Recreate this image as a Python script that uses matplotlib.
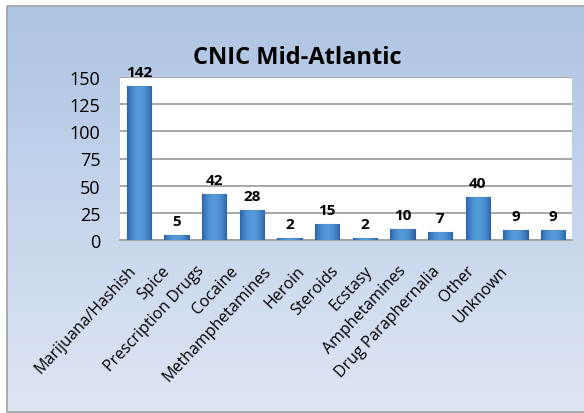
import numpy as np
import matplotlib.pyplot as plt
import matplotlib.transforms as mtransforms
from matplotlib.patches import Rectangle

# data
drugs = ["Marijuana/Hashish", "Spice", "Prescription Drugs", "Cocaine",
         "Methamphetamines", "Heroin", "Steroids", "Ecstasy",
         "Amphetamines", "Drug Paraphernalia", "Other", "Unknown"]
counts = [142, 5, 42, 28, 2, 15, 2, 10, 7, 40, 9, 9]
yticks = [0, 25, 50, 75, 100, 125, 150]

plt.rcParams['font.family'] = ['Open Sans', 'DejaVu Sans']

W, H = 584, 414
fig = plt.figure(figsize=(W / 100, H / 100), dpi=100)
fig.patch.set_facecolor('white')

# ----- background panel with vertical gradient -----
bg = fig.add_axes([0, 0, 1, 1], zorder=0)
grad = np.linspace(0, 1, 256).reshape(-1, 1)
top = np.array([0.68, 0.77, 0.89])
bot = np.array([0.87, 0.90, 0.96])
img = top + (bot - top) * grad[..., None]
bg.imshow(img, aspect='auto', extent=[7, W + 2, 413, 7])
bg.set_xlim(0, W)
bg.set_ylim(H, 0)
bg.axis('off')
# grey frame (right edge runs off the picture)
bg.add_patch(Rectangle((7, 7), W, 406, fill=False, lw=1.3, ec='#a6a6a6'))

# ----- plot area -----
ax = fig.add_axes([120 / W, 1 - 241 / H, 452 / W, 163 / H], zorder=1)
ax.set_facecolor('white')
x = np.arange(len(drugs))
bars = ax.bar(x, counts, width=0.64, color='#4483cb', edgecolor='#2f5f99',
              linewidth=0.8, zorder=3)

# bevelled look: horizontal shading clipped to each bar
t = np.linspace(-1, 1, 64)
edge = np.array([0.17, 0.39, 0.66])
mid = np.array([0.33, 0.60, 0.85])
shade = edge + (mid - edge) * (1 - t ** 2)[:, None]
shade = shade[None, :, :]
for b in bars:
    im = ax.imshow(shade, aspect='auto', zorder=3.5,
                   extent=[b.get_x(), b.get_x() + b.get_width(),
                           0, b.get_height()])
    im.set_clip_path(b)
ax.set_aspect('auto')

for b, v in zip(bars, counts):
    ax.annotate(str(v), (b.get_x() + b.get_width() / 2, v),
                xytext=(0, 5), textcoords='offset points', ha='center',
                va='bottom', fontsize=11, fontweight='bold', color='black',
                annotation_clip=False)

ax.set_ylim(0, 150)
ax.set_xlim(-0.5, len(drugs) - 0.5)
ax.set_yticks(yticks)
ax.set_yticklabels([str(t) for t in yticks], fontsize=13)
ax.yaxis.grid(True, color='#a0a0a0', linewidth=1.3, zorder=0)
ax.set_axisbelow(True)
ax.tick_params(axis='y', length=0, pad=14)
ax.tick_params(axis='x', length=0, pad=16)
ax.set_xticks(x)
ax.set_xticklabels(drugs, rotation=47, ha='right', rotation_mode='anchor',
                   fontsize=11.5)
# the category labels sit a bit tighter than the bars, drifting left
for i, lab in enumerate(ax.get_xticklabels()):
    dx = (-11 - 3.9 * i) / 100
    lab.set_transform(lab.get_transform() +
                      mtransforms.ScaledTranslation(dx, 0, fig.dpi_scale_trans))
for s in ['top', 'right', 'left']:
    ax.spines[s].set_visible(False)
ax.spines['bottom'].set_color('#a0a0a0')
ax.spines['bottom'].set_linewidth(1.3)

fig.text(297 / W, 1 - 58 / H, "CNIC Mid-Atlantic", ha='center', va='center',
         fontsize=17, fontweight='bold')

fig.savefig('out.png', dpi=100)
